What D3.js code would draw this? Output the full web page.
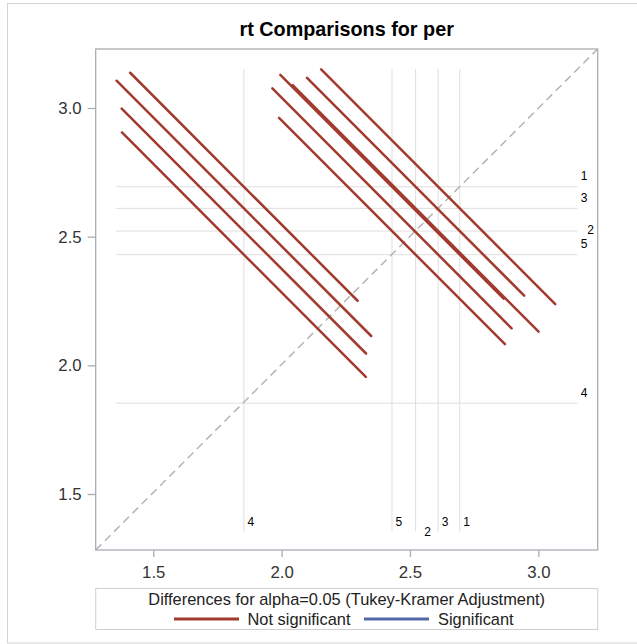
<!DOCTYPE html>
<html>
<head>
<meta charset="utf-8">
<script src="https://cdn.jsdelivr.net/npm/d3@7"></script>
<style>
  html, body { margin: 0; padding: 0; background: #fff; }
  svg { display: block; font-family: "Liberation Sans", Arial, sans-serif; }
</style>
</head>
<body>
<svg id="chart" width="637" height="644"></svg>
<script>
// ---------------- data ----------------
const chartTitle = "rt Comparisons for per";
const levels = ["1", "2", "3", "4", "5"];
const lsMeans = [2.694, 2.522, 2.610, 1.853, 2.430];
const pairFirst  = ["1", "1", "1", "1", "2", "2", "2", "3", "3", "4"];
const pairSecond = ["2", "3", "4", "5", "3", "4", "5", "4", "5", "5"];
const ciHalfWidths = [0.846, 0.912, 0.886, 0.870, 0.958, 0.952, 0.880, 0.992, 0.932, 0.950];
const xTickValues = [1.5, 2.0, 2.5, 3.0];
const yTickValues = [1.5, 2.0, 2.5, 3.0];
const axisDomainX = [1.2757, 3.2314];
const axisDomainY = [1.2824, 3.2293];
const refLineSpan = [1.355, 3.152];
const legendTitle = "Differences for alpha=0.05 (Tukey-Kramer Adjustment)";
const legendLabels = ["Not significant", "Significant"];

// ---------------- layout / style ----------------
const colNS = "#A23A2E", colSig = "#5468A8";
const frame = { left: 95.7, right: 597.7, top: 49, bottom: 550 };
const svg = d3.select("#chart");

svg.append("rect").attr("x", 7.5).attr("y", 3.5).attr("width", 640).attr("height", 639.5)
  .attr("fill", "none").attr("stroke", "#d4d4d4").attr("stroke-width", 1);

const x = d3.scaleLinear().domain(axisDomainX).range([frame.left, frame.right]);
const y = d3.scaleLinear().domain(axisDomainY).range([frame.bottom, frame.top]);

const meanOf = {};
levels.forEach((l, i) => meanOf[l] = lsMeans[i]);

// clip
svg.append("clipPath").attr("id", "clip").append("rect")
  .attr("x", frame.left).attr("y", frame.top)
  .attr("width", frame.right - frame.left).attr("height", frame.bottom - frame.top);
const plot = svg.append("g").attr("clip-path", "url(#clip)");

// reference lines
levels.forEach(l => {
  const m = meanOf[l];
  plot.append("line").attr("x1", x(m)).attr("x2", x(m))
    .attr("y1", y(refLineSpan[1])).attr("y2", y(refLineSpan[0]))
    .attr("stroke", "#dedede").attr("stroke-width", 1);
  plot.append("line").attr("y1", y(m)).attr("y2", y(m))
    .attr("x1", x(refLineSpan[0])).attr("x2", x(refLineSpan[1]))
    .attr("stroke", "#dedede").attr("stroke-width", 1);
});

// diagonal
plot.append("line")
  .attr("x1", x(axisDomainX[0])).attr("y1", y(axisDomainY[0]))
  .attr("x2", x(axisDomainX[1])).attr("y2", y(axisDomainY[1]))
  .attr("stroke", "#b4b4b4").attr("stroke-width", 1.5).attr("stroke-dasharray", "8,5");

// segments
const segs = pairFirst.map((a, i) => {
  const b = pairSecond[i];
  const ma = meanOf[a], mb = meanOf[b];
  const cx = Math.min(ma, mb), cy = Math.max(ma, mb);
  const h = ciHalfWidths[i] / 2;
  return { x1: cx - h, y1: cy + h, x2: cx + h, y2: cy - h,
           sig: Math.abs(ma - mb) > ciHalfWidths[i] };
});
plot.selectAll("line.seg").data(segs).join("line").attr("class", "seg")
  .attr("x1", d => x(d.x1)).attr("y1", d => y(d.y1))
  .attr("x2", d => x(d.x2)).attr("y2", d => y(d.y2))
  .attr("stroke", d => d.sig ? colSig : colNS)
  .attr("stroke-width", 2.5).attr("stroke-linecap", "round");

// mean labels
const nudged = "2";
levels.forEach(l => {
  const m = meanOf[l];
  const n = l === nudged;
  svg.append("text").attr("x", x(m) + (n ? 8.7 : 3.5)).attr("y", y(refLineSpan[0]) - 5 + (n ? 10 : 0))
    .attr("font-size", 12).attr("fill", "#000").text(l);
  svg.append("text").attr("x", x(refLineSpan[1]) + (n ? 10 : 3.5)).attr("y", y(m) - 6.5 + (n ? 9.5 : 0))
    .attr("font-size", 12).attr("fill", "#000").text(l);
});

// frame
svg.append("rect").attr("x", frame.left).attr("y", frame.top)
  .attr("width", frame.right - frame.left).attr("height", frame.bottom - frame.top)
  .attr("fill", "none").attr("stroke", "#a8adb2").attr("stroke-width", 1.3);

// axes
const fmt = d3.format(".1f");
const xAxis = svg.append("g").attr("transform", `translate(0,${frame.bottom})`)
  .call(d3.axisBottom(x).tickValues(xTickValues).tickFormat(fmt).tickSizeOuter(0).tickSize(7).tickPadding(9));
const yAxis = svg.append("g").attr("transform", `translate(${frame.left},0)`)
  .call(d3.axisLeft(y).tickValues(yTickValues).tickFormat(fmt).tickSizeOuter(0).tickSize(8).tickPadding(6));
[xAxis, yAxis].forEach(g => {
  g.select(".domain").remove();
  g.selectAll(".tick line").attr("stroke", "#a8adb2").attr("stroke-width", 1.3);
  g.selectAll(".tick text").attr("fill", "#333").attr("font-size", 16.8)
    .attr("font-family", "'Liberation Sans', Arial, sans-serif");
});

// title
svg.append("text").attr("x", (frame.left + frame.right) / 2).attr("y", 36)
  .attr("text-anchor", "middle").attr("font-weight", "bold").attr("font-size", 19.8)
  .attr("fill", "#000").text(chartTitle);

// legend
const lg = svg.append("g");
lg.append("rect").attr("x", frame.left).attr("y", 588.5)
  .attr("width", frame.right - frame.left).attr("height", 41)
  .attr("fill", "none").attr("stroke", "#d0d0d0").attr("stroke-width", 1);
lg.append("text").attr("x", (frame.left + frame.right) / 2).attr("y", 605)
  .attr("text-anchor", "middle").attr("font-size", 16.4).attr("fill", "#222").text(legendTitle);
const itemX = [[174, 239, 247.5], [364, 429, 438]];
legendLabels.forEach((lab, i) => {
  lg.append("line").attr("x1", itemX[i][0]).attr("x2", itemX[i][1]).attr("y1", 619).attr("y2", 619)
    .attr("stroke", i === 0 ? colNS : colSig).attr("stroke-width", 3);
  lg.append("text").attr("x", itemX[i][2]).attr("y", 624.5)
    .attr("font-size", 16.4).attr("fill", "#222").text(lab);
});
</script>
</body>
</html>
